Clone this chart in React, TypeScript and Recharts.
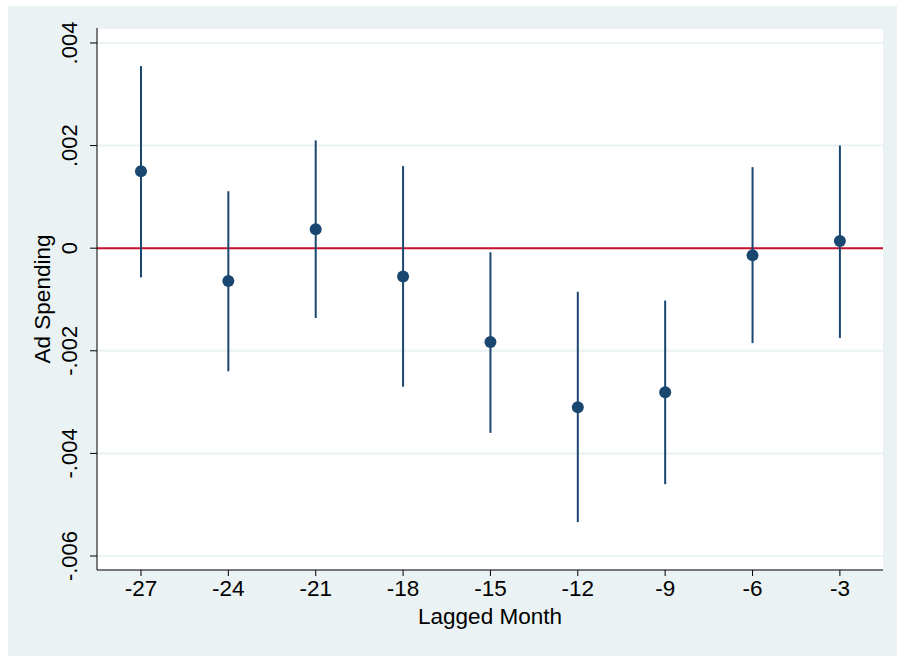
import { ComposedChart, Scatter, ErrorBar, XAxis, YAxis, CartesianGrid, ReferenceLine } from 'recharts'

const months = [-27, -24, -21, -18, -15, -12, -9, -6, -3]
const estimates = [0.0015, -0.00064, 0.00037, -0.00055, -0.00183, -0.0031, -0.00281, -0.00014, 0.00014]
const ciLow = [-0.00057, -0.0024, -0.00136, -0.0027, -0.0036, -0.00534, -0.0046, -0.00185, -0.00175]
const ciHigh = [0.00355, 0.00111, 0.0021, 0.0016, -0.00008, -0.00085, -0.00102, 0.00158, 0.002]

const xTicks = [-27, -24, -21, -18, -15, -12, -9, -6, -3]
const yTicks = [-0.006, -0.004, -0.002, 0, 0.002, 0.004]

const navy = '#1a476f'
const bg = '#eaf2f3'
const font = '"Liberation Sans", Arial, sans-serif'

const data = months.map((m, i) => ({
  month: m,
  est: estimates[i],
  err: [estimates[i] - ciLow[i], ciHigh[i] - estimates[i]],
}))

// Stata style: ".004", "-.002", "0"
const fmtY = (v: number) => {
  if (Math.abs(v) < 1e-12) return '0'
  const s = Math.abs(v).toFixed(3).replace(/^0/, '')
  return v < 0 ? '-' + s : s
}

const YTick = (props: any) => {
  const { x, y, payload } = props
  return (
    <text
      transform={`translate(${x - 11},${y}) rotate(-90)`}
      textAnchor="middle"
      fontSize={22}
      fontFamily={font}
      fill="#000"
    >
      {fmtY(payload.value)}
    </text>
  )
}

const Dot = (props: any) => {
  const { cx, cy } = props
  return <circle cx={cx} cy={cy} r={6} fill={navy} />
}

export default function App() {
  return (
    <div style={{ position: 'absolute', left: 0, top: 0, width: 897, height: 656, background: '#fff' }}>
      <div style={{ position: 'absolute', left: 8, top: 6, width: 889, height: 650, background: bg }} />
      <div style={{ position: 'absolute', left: 0, top: 0 }}>
        <ComposedChart
          width={897}
          height={656}
          data={data}
          margin={{ top: 28, right: 14, bottom: 0, left: 0 }}
        >
          <CartesianGrid vertical={false} stroke={bg} strokeWidth={2} fill="#fff" />
          <XAxis
            dataKey="month"
            type="number"
            domain={[-28.51, -1.52]}
            ticks={xTicks}
            allowDataOverflow
            height={86}
            stroke="#000"
            tickSize={6}
            tickMargin={4}
            tick={{ fontSize: 22.5, fontFamily: font, fill: '#000' }}
            label={{ value: 'Lagged Month', position: 'insideTop', offset: 38, fontSize: 22.5, fontFamily: font, fill: '#000' }}
          />
          <YAxis
            type="number"
            domain={[-0.006273, 0.004292]}
            ticks={yTicks}
            allowDataOverflow
            width={97}
            stroke="#000"
            tickSize={7}
            tick={<YTick />}
            label={{
              value: 'Ad Spending',
              angle: -90,
              position: 'insideLeft',
              offset: 42,
              fontSize: 22.5,
              fontFamily: font,
              fill: '#000',
              style: { textAnchor: 'middle' },
            }}
          />
          <ReferenceLine y={0} stroke="#c8102e" strokeWidth={2} />
          <Scatter dataKey="est" shape={<Dot />} isAnimationActive={false}>
            <ErrorBar dataKey="err" direction="y" width={0} stroke={navy} strokeWidth={2} />
          </Scatter>
        </ComposedChart>
      </div>
    </div>
  )
}
